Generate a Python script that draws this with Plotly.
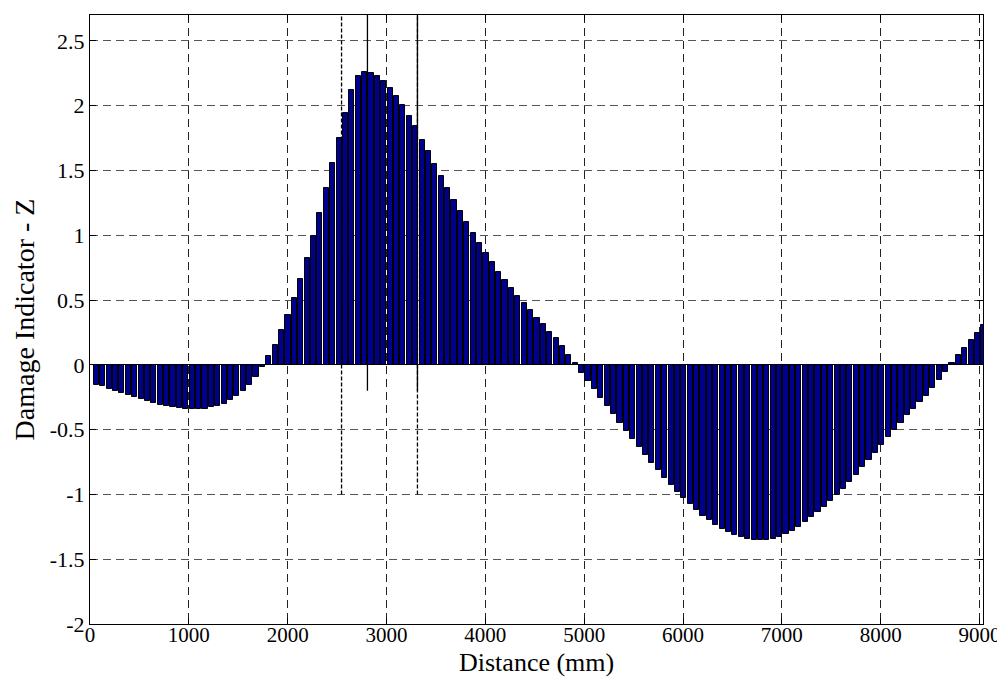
import plotly.graph_objects as go

# Bar positions (mm) and damage indicator values
distance_mm = [65, 130, 194, 259, 323, 388, 453, 517, 582, 646,
               711, 776, 840, 905, 969, 1034, 1099, 1163, 1228, 1292,
               1357, 1422, 1486, 1551, 1615, 1680, 1745, 1809, 1874, 1938,
               2003, 2068, 2132, 2197, 2261, 2326, 2391, 2455, 2520, 2584,
               2649, 2714, 2778, 2843, 2907, 2972, 3037, 3101, 3166, 3230,
               3295, 3360, 3424, 3489, 3553, 3618, 3683, 3747, 3812, 3876,
               3941, 4006, 4070, 4135, 4199, 4264, 4329, 4393, 4458, 4522,
               4587, 4652, 4716, 4781, 4845, 4910, 4975, 5039, 5104, 5168,
               5233, 5298, 5362, 5427, 5491, 5556, 5621, 5685, 5750, 5814,
               5879, 5944, 6008, 6073, 6137, 6202, 6267, 6331, 6396, 6460,
               6525, 6590, 6654, 6719, 6783, 6848, 6913, 6977, 7042, 7106,
               7171, 7236, 7300, 7365, 7429, 7494, 7559, 7623, 7688, 7752,
               7817, 7882, 7946, 8011, 8075, 8140, 8205, 8269, 8334, 8398,
               8463, 8528, 8592, 8657, 8721, 8786, 8851, 8915, 8980, 9044]

damage_z = [-0.154, -0.167, -0.185, -0.200, -0.216, -0.234, -0.250, -0.267, -0.280, -0.296,
            -0.308, -0.319, -0.329, -0.334, -0.339, -0.342, -0.342, -0.337, -0.329, -0.316,
            -0.300, -0.275, -0.242, -0.203, -0.152, -0.095, -0.018, 0.065, 0.152, 0.268,
            0.383, 0.514, 0.661, 0.823, 0.997, 1.175, 1.362, 1.558, 1.750, 1.942,
            2.124, 2.232, 2.260, 2.253, 2.227, 2.193, 2.137, 2.078, 2.003, 1.921,
            1.840, 1.739, 1.651, 1.551, 1.461, 1.366, 1.276, 1.191, 1.104, 1.019,
            0.942, 0.865, 0.793, 0.718, 0.657, 0.595, 0.533, 0.480, 0.423, 0.364,
            0.317, 0.256, 0.204, 0.143, 0.076, 0.013, -0.062, -0.123, -0.190, -0.254,
            -0.316, -0.378, -0.445, -0.509, -0.571, -0.635, -0.697, -0.756, -0.815, -0.871,
            -0.925, -0.982, -1.031, -1.077, -1.121, -1.165, -1.200, -1.234, -1.265, -1.290,
            -1.311, -1.329, -1.342, -1.350, -1.352, -1.350, -1.342, -1.327, -1.305, -1.280,
            -1.250, -1.215, -1.178, -1.138, -1.095, -1.050, -1.005, -0.955, -0.902, -0.848,
            -0.792, -0.735, -0.677, -0.618, -0.559, -0.500, -0.445, -0.390, -0.340, -0.290,
            -0.240, -0.180, -0.116, -0.057, 0.012, 0.077, 0.132, 0.193, 0.248, 0.308]

# Marker lines: solid (damage location), dashed (detected zone)
solid_line_x = [2807, 3313]
solid_line_bottom = -0.2
dashed_line_x = [2545, 3313]
dashed_line_bottom = -1.0
line_top = 2.7

x_tick_vals = [0, 1000, 2000, 3000, 4000, 5000, 6000, 7000, 8000, 9000]
x_tick_text = ["0", "1000", "2000", "3000", "4000", "5000", "6000", "7000", "8000", "9000"]
y_tick_vals = [-2, -1.5, -1, -0.5, 0, 0.5, 1, 1.5, 2, 2.5]
y_tick_text = ["-2", "-1.5", "-1", "-0.5", "0", "0.5", "1", "1.5", "2", "2.5"]
x_title = "Distance (mm)"
y_title = "Damage Indicator - Z"

fig = go.Figure()
fig.add_trace(go.Bar(
    x=distance_mm, y=damage_z, width=52,
    marker=dict(color="#00008F", line=dict(color="black", width=1)),
    showlegend=False,
))

for xv in dashed_line_x:
    fig.add_trace(go.Scatter(
        x=[xv, xv], y=[dashed_line_bottom, line_top], mode="lines",
        line=dict(color="black", width=1.3, dash="4px,2px"), showlegend=False,
    ))
for xv in solid_line_x:
    fig.add_trace(go.Scatter(
        x=[xv, xv], y=[solid_line_bottom, line_top], mode="lines",
        line=dict(color="black", width=1.3), showlegend=False,
    ))

font_family = "Liberation Serif, Times New Roman, serif"
fig.update_layout(
    width=997, height=669,
    margin=dict(l=82, r=22, t=7, b=53, autoexpand=False),
    paper_bgcolor="white", plot_bgcolor="white",
    font=dict(family=font_family, color="black", size=22),
    bargap=0,
    xaxis=dict(
        range=[0, 9035], tickvals=x_tick_vals, ticktext=x_tick_text,
        automargin=False,
        showgrid=True, gridcolor="#222222", griddash="8px,5px", gridwidth=1,
        showline=True, linecolor="black", linewidth=1, mirror="ticks",
        ticks="inside", ticklen=6, tickcolor="black",
        ticklabelstandoff=-8,
        zeroline=False,
        tickfont=dict(size=21, family=font_family),
    ),
    yaxis=dict(
        range=[-2, 2.7], tickvals=y_tick_vals, ticktext=y_tick_text,
        automargin=False,
        showgrid=True, gridcolor="#555555", griddash="8px,5px", gridwidth=1,
        showline=True, linecolor="black", linewidth=1, mirror="ticks",
        ticks="inside", ticklen=6, tickcolor="black",
        zeroline=True, zerolinecolor="black", zerolinewidth=1,
        tickfont=dict(size=22, family=font_family),
        title=dict(text=y_title, font=dict(size=28, family=font_family), standoff=6),
    ),
    annotations=[dict(
        text=x_title, xref="paper", yref="paper", x=0.5, y=0,
        xanchor="center", yanchor="top", yshift=-22, showarrow=False,
        font=dict(size=26, family=font_family, color="black"),
    )],
)

fig.write_html("out.html")
